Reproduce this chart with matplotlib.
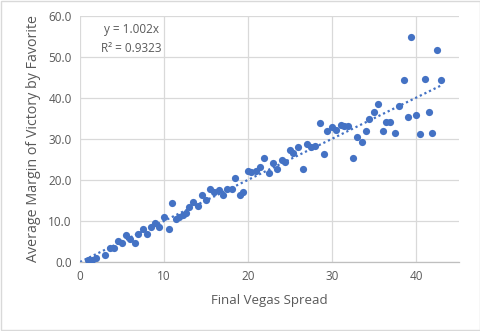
import matplotlib
matplotlib.use("Agg")
import matplotlib.pyplot as plt
import numpy as np
from matplotlib.patches import Rectangle

# final Vegas spread vs. average margin of victory by the favorite
spread = [
    1.0, 1.4, 1.9, 3.0, 3.6, 4.0, 4.5, 5.0, 5.5, 5.9, 6.5, 6.9, 7.5, 8.0,
    8.5, 8.9, 9.4, 10.0, 10.6, 11.0, 11.4, 11.8, 12.3, 12.6, 13.0, 13.5,
    14.0, 14.5, 15.0, 15.5, 16.0, 16.5, 17.0, 17.5, 18.1, 18.5, 19.0, 19.4,
    20.0, 20.4, 21.0, 21.4, 21.9, 22.5, 23.0, 23.5, 24.0, 24.4, 25.0, 25.4,
    26.0, 26.5, 27.0, 27.5, 28.0, 28.5, 29.0, 29.4, 30.0, 30.5, 31.0, 31.4,
    31.9, 32.5, 33.0, 33.5, 34.0, 34.4, 35.0, 35.5, 36.0, 36.4, 36.9, 37.5,
    38.0, 38.5, 39.0, 39.4, 40.0, 40.5, 41.0, 41.5, 41.9, 42.5, 43.0,
]
margin = [
    0.5, 0.5, 1.0, 1.6, 3.3, 3.3, 5.1, 4.7, 6.5, 5.7, 4.6, 6.8, 8.0, 6.9,
    8.6, 9.4, 8.6, 10.9, 8.1, 14.3, 10.6, 10.9, 11.5, 12.0, 13.3, 14.7,
    13.7, 16.3, 15.1, 17.7, 17.1, 17.6, 16.3, 17.9, 17.9, 20.4, 16.3, 17.1,
    22.2, 22.0, 22.3, 23.1, 25.3, 21.8, 24.1, 22.6, 24.9, 24.5, 27.3, 26.5,
    28.0, 22.8, 28.7, 28.0, 28.3, 33.8, 26.3, 32.0, 33.0, 32.2, 33.5, 33.2,
    33.2, 25.3, 30.6, 29.2, 32.0, 34.9, 36.5, 38.5, 32.0, 34.1, 34.2, 31.4,
    38.1, 44.3, 35.3, 54.8, 35.8, 31.1, 44.6, 36.7, 31.4, 51.6, 44.3,
]
slope = 1.002
r_squared = 0.9323

blue = "#4472C4"
text_gray = "#595959"
grid_gray = "#D9D9D9"
font = "Open Sans"

fig = plt.figure(figsize=(4.81, 3.31), dpi=100)
fig.patch.set_facecolor("white")
fig.patches.append(Rectangle((0.002, 0.003), 0.995, 0.993, transform=fig.transFigure,
                             fill=False, edgecolor="#D9D9D9", linewidth=1.0))
ax = fig.add_axes([80 / 481, 69 / 331, 379 / 481, 246 / 331])

ax.scatter(spread, margin, s=27, color=blue, zorder=3, linewidths=0)

# trendline forced through the origin
xs = np.array([0.0, max(spread)])
ax.plot(xs, slope * xs, linestyle=(0, (1, 1.3)), color=blue, linewidth=1.6, zorder=2)

ax.set_xlim(0, 45.1)
ax.set_ylim(0, 60)
ax.set_xticks(range(0, 50, 10))
ax.set_yticks(range(0, 70, 10))
ax.set_yticklabels([f"{v:.1f}" for v in range(0, 70, 10)])
ax.tick_params(length=0, labelsize=8.5, colors=text_gray, pad=6)
for lab in ax.get_xticklabels() + ax.get_yticklabels():
    lab.set_fontfamily(font)

ax.grid(True, color=grid_gray, linewidth=0.9)
ax.set_axisbelow(True)
for side in ("top", "right", "left"):
    ax.spines[side].set_visible(False)
ax.spines["bottom"].set_color("#BFBFBF")
ax.spines["bottom"].set_linewidth(0.9)

ax.set_xlabel("Final Vegas Spread", fontsize=9.5, color=text_gray, family=font, labelpad=8)
ax.set_ylabel("Average Margin of Victory by Favorite", fontsize=10.3, color=text_gray,
              family=font, labelpad=5)

fig.text(131 / 481, 1 - 30 / 331, f"y = {slope}x", ha="center", va="center",
         fontsize=8.5, color=text_gray, family=font)
fig.text(131 / 481, 1 - 48 / 331, f"R² = {r_squared}", ha="center", va="center",
         fontsize=8.5, color=text_gray, family=font)

fig.savefig("out.png", dpi=100, facecolor="white")
